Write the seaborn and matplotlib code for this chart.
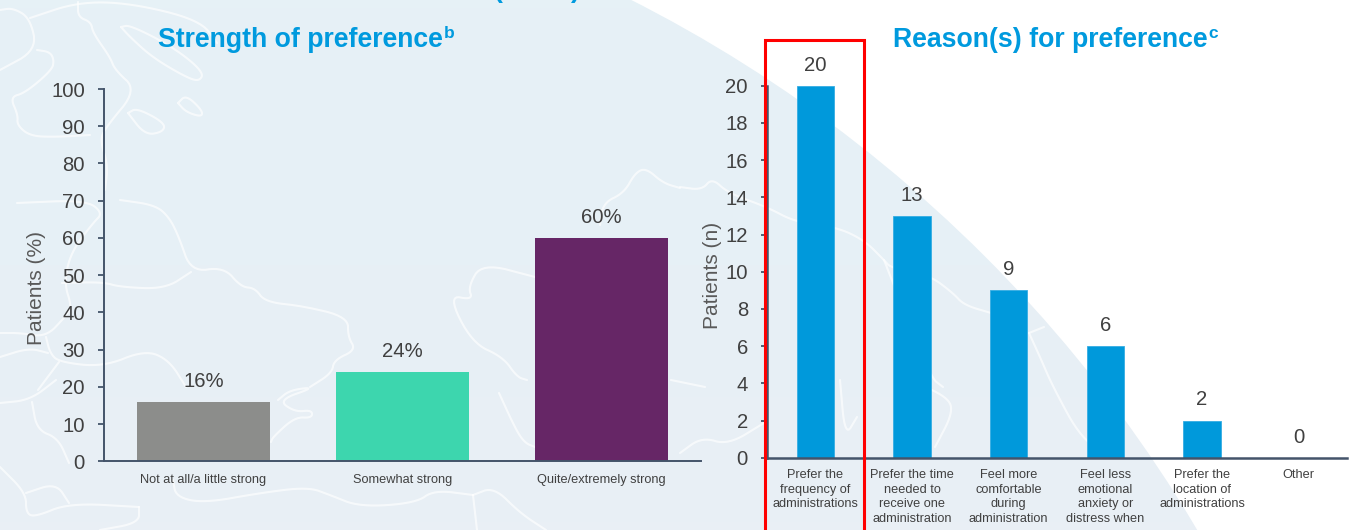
import numpy as np
import matplotlib
matplotlib.use("Agg")
import matplotlib.pyplot as plt
from matplotlib.colors import LinearSegmentedColormap
from matplotlib.patches import Circle, Rectangle
import seaborn as sns

# Strength of preference (% of patients)
strength_labels = ["Not at all/a little strong", "Somewhat strong", "Quite/extremely strong"]
strength_values = [16, 24, 60]
strength_colors = ["#8C8D8B", "#3DD6AE", "#662666"]

# Reasons for preference (number of patients)
reason_labels = [
    "Prefer the\nfrequency of\nadministrations",
    "Prefer the time\nneeded to\nreceive one\nadministration",
    "Feel more\ncomfortable\nduring\nadministration",
    "Feel less\nemotional\nanxiety or\ndistress when",
    "Prefer the\nlocation of\nadministrations",
    "Other",
]
reason_values = [20, 13, 9, 6, 2, 0]

BLUE = "#0099DB"
AXIS = "#44546A"
TEXT = "#404040"
W, H = 1358, 530

sns.set_theme(style="ticks")
plt.rcParams["font.family"] = ["Liberation Sans", "DejaVu Sans"]

fig = plt.figure(figsize=(W / 100, H / 100), dpi=100, facecolor="white")


def axes_px(left, top, right, bottom, **kwargs):
    """Create axes from pixel edges measured from the top-left corner."""
    return fig.add_axes([left / W, 1 - bottom / H, (right - left) / W, (bottom - top) / H], **kwargs)


def rounded(points, passes=3):
    """Round off a coastline polyline by repeated corner cutting."""
    pts = np.asarray(points, dtype=float)
    for _ in range(passes):
        q = 0.75 * pts[:-1] + 0.25 * pts[1:]
        r = 0.25 * pts[:-1] + 0.75 * pts[1:]
        mid = np.empty((2 * len(q), 2))
        mid[0::2], mid[1::2] = q, r
        pts = np.vstack([pts[:1], mid, pts[-1:]])
    return pts


# Backdrop: a pale globe with white coastlines
bg = axes_px(0, 0, W, H, zorder=0)
bg.set_xlim(0, W)
bg.set_ylim(H, 0)
bg.axis("off")
cmap = LinearSegmentedColormap.from_list("globe", ["#E6F1F6", "#E7F0F6", "#E9EFF5"])
img = bg.imshow(np.linspace(0, 1, 64)[:, None], extent=(0, W, H, 0), cmap=cmap, aspect="auto", zorder=0)
disc = Circle((4, 1237), 1387, transform=bg.transData, facecolor="none", edgecolor="none")
bg.add_patch(disc)
img.set_clip_path(disc)
bg.set_xlim(0, W)
bg.set_ylim(H, 0)

coastlines = [
    [(0, 10), (13, 8), (30, 18), (37, 50), (0, 70)],
    [(37, 50), (50, 52), (54, 60), (52, 70), (25, 93), (10, 97), (18, 115), (17, 125), (30, 136), (55, 137), (90, 135)],
    [(30, 18), (78, 2), (130, 3), (200, 20), (217, 43)],
    [(78, 2), (78, 17), (91, 22), (93, 33), (110, 57), (115, 70), (137, 90), (106, 127), (100, 140), (108, 165), (105, 190)],
    [(121, 27), (130, 25), (173, 47), (204, 72), (199, 82), (182, 75), (152, 57), (130, 37), (121, 27)],
    [(178, 103), (186, 95), (202, 110), (202, 117), (186, 112), (178, 103)],
    [(128, 113), (137, 108), (165, 123), (163, 132), (145, 135), (128, 113)],
    [(120, 200), (155, 205), (169, 217), (179, 237), (191, 272), (224, 267), (241, 287), (255, 288), (265, 302),
     (303, 306), (348, 317), (348, 337), (356, 350), (334, 360), (332, 373), (310, 387)],
    [(62, 283), (103, 282), (120, 287), (165, 289), (191, 272)],
    [(535, 277), (482, 263), (468, 287), (473, 300), (448, 295), (472, 343), (503, 357), (517, 377), (527, 380)],
    [(0, 333), (21, 333), (46, 337), (65, 317), (72, 307), (64, 283), (71, 252), (93, 223), (103, 213), (86, 200), (17, 203)],
    [(46, 337), (50, 353), (59, 362), (103, 367), (145, 350), (169, 360), (186, 387)],
    [(0, 357), (29, 348), (48, 353)],
    [(59, 362), (38, 390)],
    [(0, 403), (30, 400), (56, 380)],
    [(32, 402), (37, 430), (58, 438), (69, 463)],
    [(0, 467), (26, 493), (26, 513), (35, 517), (69, 503), (139, 507)],
    [(26, 493), (56, 483), (69, 503)],
    [(173, 480), (176, 497), (204, 503), (260, 493), (308, 487), (330, 495), (360, 507), (416, 503), (434, 490), (473, 495)],
    [(473, 495), (494, 487), (520, 513), (546, 530)],
    [(473, 495), (477, 530)],
    [(139, 507), (139, 523), (100, 530)],
    [(278, 400), (290, 390), (316, 387), (278, 400), (295, 412), (312, 410), (312, 418), (295, 417), (273, 437), (271, 442)],
    [(499, 393), (516, 430), (525, 443), (535, 447)],
    [(680, 188), (663, 183), (646, 168), (635, 173), (624, 193), (603, 203), (600, 225)],
    [(680, 187), (702, 190), (712, 178), (728, 193), (767, 207), (795, 222), (836, 227), (864, 240), (884, 260), (891, 268),
     (929, 275), (953, 293), (964, 305), (991, 313)],
    [(1029, 333), (1044, 327)],
    [(1029, 333), (1040, 357), (1053, 387), (1082, 440), (1113, 457)],
    [(884, 260), (930, 377), (943, 387)],
    [(671, 380), (705, 387)],
    [(680, 453), (702, 437), (728, 445), (764, 423)],
    [(840, 380), (845, 437), (857, 417)],
    [(909, 380), (948, 397), (953, 413), (935, 447)],
]
for line in coastlines:
    smooth = rounded(line)
    bg.plot(smooth[:, 0], smooth[:, 1], color="white", lw=1.5, alpha=0.65, solid_capstyle="round", zorder=1)


def style_axes(ax, labels, ylabel, yticks, line_width, label_pad):
    ax.set_facecolor("none")
    sns.despine(ax=ax)
    for side in ("left", "bottom"):
        ax.spines[side].set_color(AXIS)
        ax.spines[side].set_linewidth(line_width)
    ax.set_yticks(yticks)
    ax.tick_params(axis="y", length=4.3, width=1.3, color=AXIS, labelsize=14.6, labelcolor=TEXT, pad=9.4)
    ax.tick_params(axis="x", length=0, labelsize=9.2, labelcolor=TEXT, pad=label_pad)
    ax.set_xticks(range(len(labels)))
    ax.set_xticklabels(labels, linespacing=1.3)
    ax.set_xlabel("")
    ax.set_ylabel(ylabel, fontsize=15, color="#595959")


def titled(x_px, text, sup):
    title = fig.text(x_px / W, 1 - 47 / H, text, color="#009ADE", fontsize=19.2, fontweight="bold", va="baseline")
    fig.canvas.draw()
    bbox = title.get_window_extent()
    fig.text((bbox.x1 + 0.5) / W, 1 - 38 / H, sup, color="#009ADE", fontsize=12.5, fontweight="bold", va="baseline")


# Left panel
ax1 = axes_px(104, 89, 701, 461.3, zorder=2)
sns.barplot(x=strength_labels, y=strength_values, hue=strength_labels, palette=strength_colors,
            width=0.668, saturation=1, legend=False, linewidth=0, ax=ax1)
ax1.set_xlim(-0.5, 2.5)
ax1.set_ylim(0, 100)
style_axes(ax1, strength_labels, "Patients (%)", range(0, 101, 10), 1.4, 9.5)
ax1.yaxis.set_label_coords(-58 / 597, 0.465)
for bars in ax1.containers:
    ax1.bar_label(bars, fmt="%g%%", padding=8, fontsize=14.6, color=TEXT)

# Right panel
ax2 = axes_px(767, 85.7, 1347, 457.7, zorder=2)
sns.barplot(x=reason_labels, y=reason_values, color=BLUE, width=0.385, saturation=1,
            edgecolor="#35ADE3", linewidth=0.6, ax=ax2)
ax2.set_xlim(-0.5, 5.5)
ax2.set_ylim(0, 20)
style_axes(ax2, reason_labels, "Patients (n)", range(0, 21, 2), 1.8, 8)
ax2.yaxis.set_label_coords(-45 / 580, 0.49)
for bars in ax2.containers:
    ax2.bar_label(bars, fmt="%g", padding=8, fontsize=14.6, color=TEXT)

titled(158, "Strength of preference", "b")
titled(893, "Reason(s) for preference", "c")

# Bottom of the slide heading, cut off by the top edge
fig.text(494 / W, 1 + 2 / H, "(", color="#009ADE", fontsize=19, fontweight="bold", va="baseline")
fig.text(571 / W, 1 + 2 / H, ")", color="#009ADE", fontsize=19, fontweight="bold", va="baseline")

# Red call-out box around the leading reason; it runs past the bottom edge
fig.add_artist(Rectangle((764.5 / W, -0.05), (864 - 764.5) / W, 1.05 - 40 / H, transform=fig.transFigure,
                         fill=False, edgecolor="#FF0000", linewidth=2.2, zorder=5))

fig.savefig("out.png", dpi=100, facecolor="white")
